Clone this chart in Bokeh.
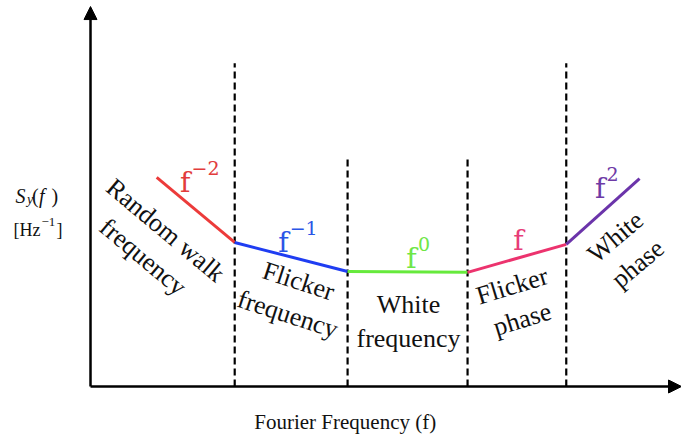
from bokeh.plotting import figure
from bokeh.models import Range1d, Arrow, NormalHead, ColumnDataSource
from bokeh.core.properties import value
from bokeh.embed import file_html
from bokeh.resources import INLINE

# ---- data (arbitrary schematic units: log-frequency along x, log S_y along y) ----
regime_bounds = [2.44, 4.35, 6.38, 8.05]          # dashed separators
bound_tops = [8.55, 6.10, 6.10, 8.55]
knots_x = [1.12, 2.44, 4.35, 6.38, 8.05, 9.29]     # piecewise power-law spectrum
knots_y = [5.53, 3.81, 3.04, 3.02, 3.76, 5.50]
seg_colors = ["#ec3b3a", "#1f3df2", "#66ea3c", "#ec336e", "#6b34aa"]
exp_colors = ["#e23c3c", "#2a55e6", "#6ee646", "#e73c78", "#6e3aa6"]
slopes = ["\u22122", "\u22121", "0", "", "2"]
regime_names = ["Random walk\nfrequency", "Flicker\nfrequency", "White\nfrequency",
                "Flicker\nphase", "White\nphase"]
x_label = "Fourier Frequency (f)"

p = figure(width=681, height=437, x_range=Range1d(-1.523, 10.0), y_range=Range1d(-1.349, 10.21),
           min_border=0, toolbar_location=None, output_backend="svg",
           x_axis_location=None, y_axis_location=None)
p.grid.visible = False
p.outline_line_color = None
p.background_fill_color = "white"
p.border_fill_color = "white"

# axes with arrows
p.add_layout(Arrow(x_start=0, y_start=0, x_end=10.0, y_end=0, line_width=2.5, line_color="black",
                   end=NormalHead(size=13, fill_color="black", line_color="black")))
p.add_layout(Arrow(x_start=0, y_start=0, x_end=0, y_end=10.05, line_width=2.5, line_color="black",
                   end=NormalHead(size=13, fill_color="black", line_color="black")))

# dashed separators
p.segment(x0=regime_bounds, y0=[0] * len(regime_bounds), x1=regime_bounds, y1=bound_tops,
          line_color="black", line_width=2.2, line_dash="7 4")

# spectrum segments
seg = ColumnDataSource(dict(x0=knots_x[:-1], y0=knots_y[:-1], x1=knots_x[1:], y1=knots_y[1:],
                            c=seg_colors))
p.segment(x0="x0", y0="y0", x1="x1", y1="y1", line_color="c", line_width=3, source=seg)

# slope labels: f with superscript exponent
fx = [1.69, 3.35, 5.52, 7.33, 8.71]
fy = [5.40, 3.81, 3.39, 3.86, 5.24]
raise_ = 0.37
p.text(x=fx, y=fy, text=["f"] * 5, text_color=exp_colors, text_font=value("DejaVu Serif"),
       text_font_size="28px", text_align="right", text_baseline="alphabetic")
p.text(x=[v + 0.02 for v in fx], y=[v + raise_ for v in fy], text=slopes, text_color=exp_colors,
       text_font=value("DejaVu Serif"), text_font_size="19px", text_align="left",
       text_baseline="alphabetic")

# regime names
p.text(x=[1.08, 3.43, 5.38, 7.22, 9.07], y=[3.78, 2.35, 1.72, 2.22, 3.60], text=regime_names,
       angle=[-40, -18, 0, 17, 40], angle_units="deg", text_color="#111111",
       text_font=value("Liberation Serif"), text_font_size="26px", text_align="center",
       text_baseline="middle", text_line_height=1.2)

# x-axis label
p.text(x=[4.31], y=[-0.95], text=[x_label], text_font=value("Liberation Serif"),
       text_font_size="21px", text_align="center", text_baseline="middle", text_color="#111111")

# y-axis label: S_y(f) [Hz^-1]
common = dict(text_font=value("Liberation Serif"), text_align="left", text_baseline="alphabetic",
              text_color="#111111")
p.text(x=[-1.269], y=[5.05], text=["S"], text_font_size="20px", text_font_style="italic", **common)
p.text(x=[-1.075], y=[4.95], text=["y"], text_font_size="14px", text_font_style="italic", **common)
p.text(x=[-0.99, -0.66], y=[5.05, 5.05], text=["(", ")"], text_font_size="20px", **common)
p.text(x=[-0.87], y=[5.05], text=["f"], text_font_size="20px", text_font_style="italic", **common)
p.text(x=[-1.303, -0.575], y=[4.13, 4.13], text=["[Hz", "]"], text_font_size="18px", **common)
p.text(x=[-0.83], y=[4.36], text=["\u22121"], text_font_size="13px", **common)

open("out.html", "w").write(file_html(p, INLINE))
